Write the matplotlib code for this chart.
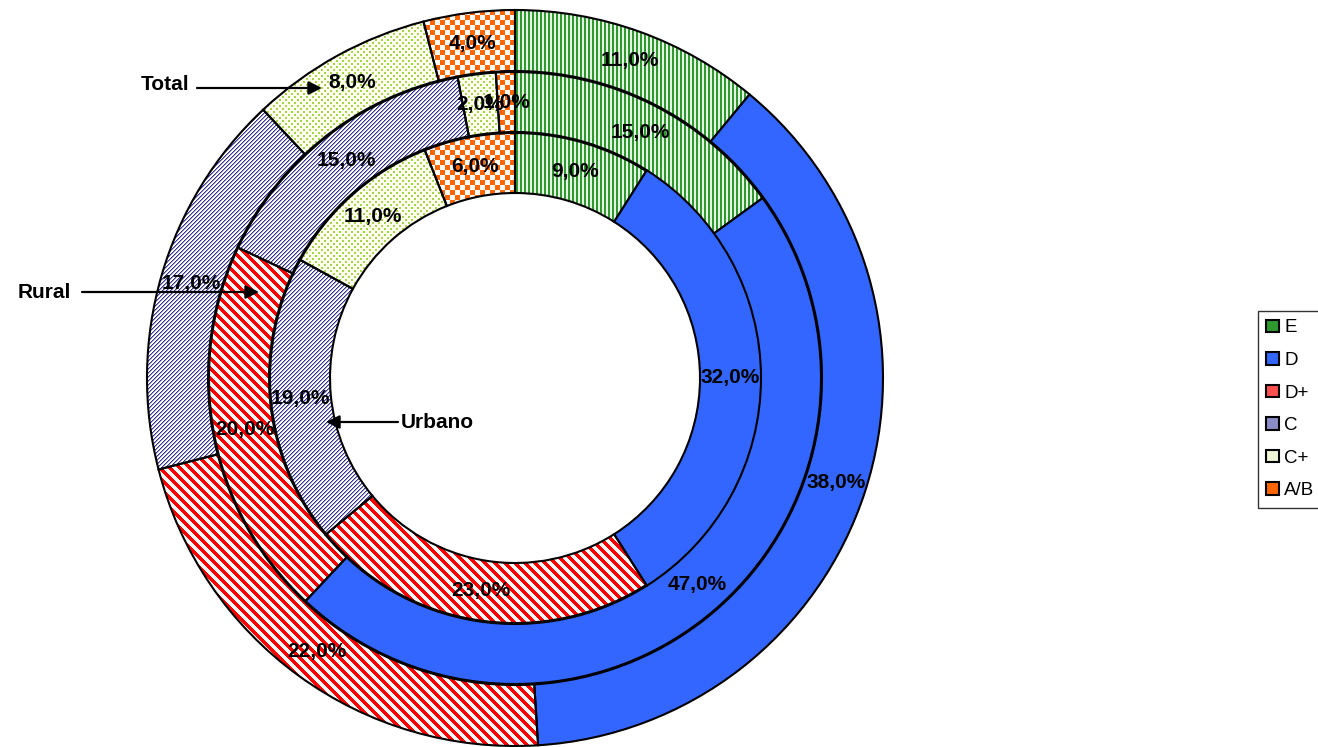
import numpy as np
import matplotlib.pyplot as plt
from matplotlib.patches import Patch

# datos: Total (anillo exterior), Rural (medio), Urbano (interior)
categories = ['E', 'D', 'D+', 'C', 'C+', 'A/B']
total = [11, 38, 22, 17, 8, 4]
rural = [15, 47, 20, 15, 2, 1]
urbano = [9, 32, 23, 19, 11, 6]

plt.rcParams['font.family'] = ['Liberation Sans', 'DejaVu Sans']

W, H = 1318, 747


def hex_rgb(h):
    h = h.lstrip('#')
    return np.array([int(h[i:i + 2], 16) for i in (0, 2, 4)], dtype=np.uint8)


def make_patterns():
    yy, xx = np.mgrid[0:H, 0:W]
    pats = {}

    img = np.empty((H, W, 3), dtype=np.uint8)
    img[:] = hex_rgb('#E6F2E6')
    img[(xx % 4) < 2] = hex_rgb('#2E9A2E')
    pats['E'] = img

    img = np.empty((H, W, 3), dtype=np.uint8)
    img[:] = hex_rgb('#FFFFFF')
    img[((xx - yy) % 10) < 5] = hex_rgb('#FF0000')
    pats['D+'] = img

    img = np.empty((H, W, 3), dtype=np.uint8)
    img[:] = hex_rgb('#FFFFFF')
    m = (xx + yy) % 4
    img[m == 1] = hex_rgb('#9999CC')
    img[m == 0] = hex_rgb('#333399')
    pats['C'] = img

    img = np.empty((H, W, 3), dtype=np.uint8)
    img[:] = hex_rgb('#FFFFF2')
    dots = (((yy % 6) < 2) & ((xx % 6) < 2)) | ((((yy + 3) % 6) < 2) & (((xx + 3) % 6) < 2))
    img[dots] = hex_rgb('#A6D448')
    pats['C+'] = img

    img = np.empty((H, W, 3), dtype=np.uint8)
    img[:] = hex_rgb('#FFFFFF')
    img[((xx // 5 + yy // 5) % 2) == 0] = hex_rgb('#FF6600')
    pats['A/B'] = img
    return pats


def fmt(p):
    return f"{p:.1f}%".replace('.', ',')


fig = plt.figure(figsize=(W / 100, H / 100), dpi=100)
ax = fig.add_axes([0, 0, 1, 1])

patterns = make_patterns()
cx, cy = 515, H - 378
ring_w = 61
rings = [(total, 368), (rural, 306), (urbano, 246)]
colors = ['none', '#3366FF', 'none', 'none', 'none', 'none']

for values, r in rings:
    wedges, _, autotexts = ax.pie(
        values, radius=r, center=(cx, cy), startangle=90, counterclock=False,
        colors=colors, autopct=fmt, pctdistance=(r - ring_w / 2) / r,
        wedgeprops=dict(width=ring_w, edgecolor='black', linewidth=1.5),
        textprops=dict(fontsize=15, fontweight='bold', color='black'))
    for w, cat in zip(wedges, categories):
        if cat in patterns:
            im = ax.imshow(patterns[cat], extent=(0, W, 0, H),
                           interpolation='nearest', zorder=0)
            im.set_clip_path(w)

# flechas y rótulos
arrow = dict(arrowstyle='-|>', color='black', lw=1.6, mutation_scale=20, shrinkA=0, shrinkB=0)
ax.annotate('', xy=(322, H - 88), xytext=(197, H - 88), arrowprops=arrow)
ax.text(189, H - 85, 'Total', ha='right', va='center', fontsize=15, fontweight='bold')
ax.annotate('', xy=(259, H - 292), xytext=(82, H - 292), arrowprops=arrow)
ax.text(71, H - 292, 'Rural', ha='right', va='center', fontsize=15, fontweight='bold')
ax.annotate('', xy=(326, H - 422), xytext=(398, H - 422), arrowprops=arrow)
ax.text(401, H - 422, 'Urbano', ha='left', va='center', fontsize=15, fontweight='bold')

ax.set_xlim(0, W)
ax.set_ylim(0, H)
ax.set_aspect('equal')
ax.axis('off')

legend_colors = ['#2E9A2E', '#3366FF', '#FF5050', '#8C8CC6', '#EEF6D6', '#FF6600']
handles = [Patch(facecolor=c, edgecolor='black', linewidth=1.5) for c in legend_colors]
fig.legend(handles, categories, loc='upper left',
           bbox_to_anchor=(1258 / W, 1 - 311 / H), bbox_transform=fig.transFigure,
           fontsize=13.5, frameon=True, fancybox=False, edgecolor='black',
           handlelength=0.65, handleheight=0.65, handletextpad=0.3,
           labelspacing=0.83, borderpad=0.45, borderaxespad=0)

fig.savefig('out.png', dpi=100)
